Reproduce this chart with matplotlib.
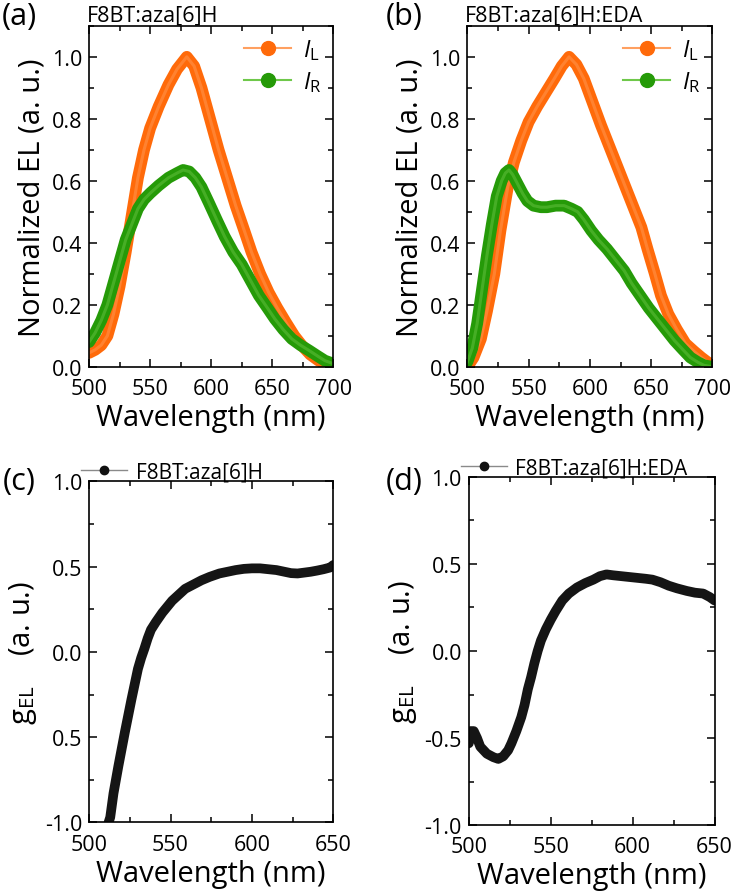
import matplotlib
matplotlib.use("Agg")
import matplotlib.pyplot as plt
from matplotlib.lines import Line2D
from matplotlib.ticker import MultipleLocator

plt.rcParams['font.family'] = ['Open Sans', 'DejaVu Sans']
plt.rcParams['mathtext.fontset'] = 'custom'
plt.rcParams['mathtext.rm'] = 'Open Sans'
plt.rcParams['mathtext.it'] = 'Open Sans:italic'

# ---- data ----
# (a) F8BT:aza[6]H
wl_a_L = [500, 505, 510, 515, 520, 525, 530, 535, 540, 545, 550, 557, 565, 572, 580, 586,
          592, 599, 606, 613, 620, 627, 633, 640, 647, 654, 661, 668, 674, 681, 688, 694, 700]
IL_a = [0.045, 0.055, 0.07, 0.10, 0.17, 0.26, 0.37, 0.49, 0.61, 0.70, 0.77, 0.84, 0.91, 0.96, 1.0, 0.97,
        0.90, 0.80, 0.70, 0.61, 0.52, 0.44, 0.37, 0.30, 0.24, 0.19, 0.144, 0.10, 0.07, 0.04, 0.02, 0.01, 0.005]
wl_a_R = [500, 505, 510, 515, 520, 525, 530, 535, 540, 545, 550, 557, 565, 572, 577, 582, 587,
          592, 598, 605, 611, 618, 625, 632, 639, 646, 652, 659, 666, 673, 680, 687, 693, 700]
IR_a = [0.08, 0.11, 0.15, 0.20, 0.27, 0.34, 0.41, 0.46, 0.51, 0.54, 0.56, 0.585, 0.61, 0.625, 0.635, 0.63, 0.61,
        0.58, 0.53, 0.47, 0.42, 0.37, 0.33, 0.28, 0.23, 0.19, 0.155, 0.12, 0.09, 0.07, 0.053, 0.035, 0.02, 0.01]

# (b) F8BT:aza[6]H:EDA
wl_b_L = [500, 505, 511, 516, 522, 527, 533, 538, 544, 550, 557, 564, 571, 577, 583, 589, 595,
          602, 609, 615, 622, 629, 636, 642, 647, 653, 658, 664, 671, 678, 685, 691, 696, 700]
IL_b = [0.0, 0.03, 0.09, 0.18, 0.30, 0.44, 0.58, 0.66, 0.73, 0.79, 0.84, 0.885, 0.93, 0.97, 1.0, 0.975, 0.93,
        0.855, 0.78, 0.72, 0.65, 0.58, 0.51, 0.45, 0.38, 0.30, 0.23, 0.17, 0.12, 0.075, 0.05, 0.03, 0.015, 0.008]
wl_b_R = [500, 504, 508, 512, 516, 520, 524, 528, 531, 534, 537, 541, 545, 549, 554, 560, 565,
          572, 579, 585, 590, 595, 601, 607, 614, 621, 628, 634, 641, 648, 655, 662, 669, 676, 682, 688, 693, 700]
IR_b = [0.016, 0.06, 0.14, 0.25, 0.36, 0.46, 0.55, 0.60, 0.625, 0.635, 0.62, 0.59, 0.56, 0.535, 0.52, 0.515, 0.515,
        0.52, 0.52, 0.51, 0.50, 0.475, 0.44, 0.41, 0.38, 0.345, 0.31, 0.27, 0.23, 0.19, 0.155, 0.12, 0.085,
        0.055, 0.03, 0.015, 0.005, 0.0]

# (c) g_EL, F8BT:aza[6]H
wl_c = [512, 513, 515, 518, 520, 522, 524, 526, 528, 530, 532, 534, 536, 538, 541, 545, 551, 555, 559,
        564, 569, 574, 580, 585, 590, 595, 600, 605, 610, 615, 620, 624, 628, 632, 636, 640, 644, 648, 650]
g_c = [-1.0, -0.97, -0.83, -0.67, -0.57, -0.47, -0.375, -0.28, -0.19, -0.10, -0.035, 0.02, 0.08, 0.13, 0.175,
       0.23, 0.30, 0.335, 0.37, 0.395, 0.42, 0.44, 0.46, 0.47, 0.48, 0.487, 0.49, 0.49, 0.485, 0.48, 0.47,
       0.462, 0.46, 0.465, 0.47, 0.477, 0.485, 0.495, 0.51]

# (d) g_EL, F8BT:aza[6]H:EDA
wl_d = [500, 501, 503, 505, 507, 511, 515, 518, 521, 524, 526, 529, 532, 534, 536, 538, 540, 542, 544,
        547, 550, 553, 557, 561, 566, 571, 576, 580, 584, 588, 593, 598, 603, 608, 612, 617, 622, 627,
        633, 638, 643, 647, 650]
g_d = [-0.53, -0.46, -0.46, -0.50, -0.55, -0.59, -0.61, -0.62, -0.605, -0.57, -0.53, -0.46, -0.38, -0.31,
       -0.22, -0.15, -0.07, 0.0, 0.06, 0.125, 0.18, 0.23, 0.29, 0.33, 0.365, 0.39, 0.41, 0.43, 0.44, 0.435,
       0.43, 0.425, 0.42, 0.415, 0.41, 0.395, 0.375, 0.36, 0.345, 0.335, 0.33, 0.31, 0.29]

ticks_g = [-1.0, -0.5, 0.0, 0.5, 1.0]
ticklabels_c = ['-1.0', '0.5', '0.0', '0.5', '1.0']
ticklabels_d = ['-1.0', '-0.5', '0.0', '0.5', '1.0']

orange, orange_hi = '#ff6a0a', '#ffa060'
green, green_hi = '#259a08', '#6fc84a'

fig = plt.figure(figsize=(7.36, 8.95), dpi=100)
ax_a = fig.add_axes([0.121, 0.589, 0.332, 0.381])
ax_b = fig.add_axes([0.635, 0.589, 0.333, 0.381])
ax_c = fig.add_axes([0.121, 0.080, 0.332, 0.381])
ax_d = fig.add_axes([0.637, 0.077, 0.334, 0.389])


def style(ax):
    ax.tick_params(which='both', direction='in', top=True, right=True,
                   labelsize=15.5, width=1.1)
    ax.tick_params(axis='y', pad=5)
    ax.tick_params(axis='x', pad=8)
    ax.tick_params(which='major', length=6)
    ax.tick_params(which='minor', length=3.5)
    for s in ax.spines.values():
        s.set_linewidth(1.2)


def thick(ax, x, y, c, hi):
    ax.plot(x, y, color=c, lw=8.5, solid_capstyle='round', solid_joinstyle='round')
    ax.plot(x, y, color=hi, lw=2.2, alpha=0.45)


def el_legend(ax):
    h = [Line2D([], [], color=orange_hi, lw=1.5, marker='o', ms=10, mfc=orange, mec=orange),
         Line2D([], [], color=green_hi, lw=1.5, marker='o', ms=10, mfc=green, mec=green)]
    ax.legend(h, [r'$\mathit{I}_\mathrm{L}$', r'$\mathit{I}_\mathrm{R}$'], loc='upper right',
              frameon=False, fontsize=17, handlelength=2.0, labelspacing=0.3,
              borderaxespad=0.1, handletextpad=0.5)


for ax, (xL, yL, xR, yR), title in [
        (ax_a, (wl_a_L, IL_a, wl_a_R, IR_a), 'F8BT:aza[6]H'),
        (ax_b, (wl_b_L, IL_b, wl_b_R, IR_b), 'F8BT:aza[6]H:EDA')]:
    thick(ax, xL, yL, orange, orange_hi)
    thick(ax, xR, yR, green, green_hi)
    ax.set_xlim(500, 700)
    ax.set_ylim(0, 1.1)
    ax.xaxis.set_major_locator(MultipleLocator(50))
    ax.xaxis.set_minor_locator(MultipleLocator(25))
    ax.set_yticks([0, 0.2, 0.4, 0.6, 0.8, 1.0])
    ax.yaxis.set_minor_locator(MultipleLocator(0.1))
    ax.set_xlabel('Wavelength (nm)', fontsize=21, labelpad=3)
    ax.set_ylabel('Normalized EL (a. u.)', fontsize=21, labelpad=4)
    ax.set_title(title, loc='left', fontsize=15.5, pad=3, x=-0.01)
    style(ax)
    el_legend(ax)

for ax, x, y, lab, labels in [(ax_c, wl_c, g_c, 'F8BT:aza[6]H', ticklabels_c),
                              (ax_d, wl_d, g_d, 'F8BT:aza[6]H:EDA', ticklabels_d)]:
    ax.plot(x, y, color='#151515', lw=7, solid_capstyle='round', solid_joinstyle='round')
    ax.set_xlim(500, 650)
    ax.set_ylim(-1.0, 1.0)
    ax.xaxis.set_major_locator(MultipleLocator(50))
    ax.xaxis.set_minor_locator(MultipleLocator(25))
    ax.set_yticks(ticks_g)
    ax.set_yticklabels(labels)
    ax.yaxis.set_minor_locator(MultipleLocator(0.25))
    ax.set_xlabel('Wavelength (nm)', fontsize=21, labelpad=3)
    ax.set_ylabel(r'g$_\mathrm{EL}$    (a. u.)', fontsize=21, labelpad=4)
    style(ax)
    h = Line2D([], [], color='#8a8a8a', lw=1.0, marker='o', ms=6, mfc='#111111', mec='#111111')
    ax.legend([h], [lab], loc='lower left', bbox_to_anchor=(-0.04, 0.99), frameon=False,
              fontsize=15, handlelength=2.2, handletextpad=0.4, borderaxespad=0, borderpad=0.1)

for txt, x, y in [('(a)', 0.026, 0.981), ('(b)', 0.549, 0.981),
                  ('(c)', 0.026, 0.461), ('(d)', 0.549, 0.461)]:
    fig.text(x, y, txt, fontsize=22, ha='center', va='center')

fig.savefig('out.png', dpi=100)
